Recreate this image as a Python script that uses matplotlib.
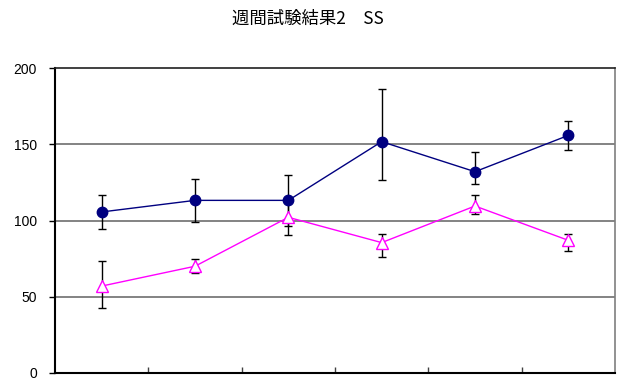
import matplotlib
matplotlib.use("Agg")
import matplotlib.pyplot as plt
import numpy as np

# Weekly test results (series means with lower/upper error extents)
weeks = ["1", "2", "3", "4", "5", "6"]
blue_vals = [105.6, 113.2, 113.2, 151.7, 132.0, 155.8]
blue_err_low = [11.0, 14.2, 16.6, 25.4, 8.3, 9.6]
blue_err_high = [11.3, 14.0, 16.6, 34.3, 13.1, 9.6]
pink_vals = [57.0, 70.0, 102.1, 85.5, 109.5, 87.0]
pink_err_low = [14.4, 4.5, 11.4, 9.4, 5.0, 7.0]
pink_err_high = [16.6, 4.5, 11.4, 5.9, 7.5, 4.4]
y_ticks = [0, 50, 100, 150, 200]
title_text = "週間試験結果2\u3000SS"

plt.rcParams["font.family"] = ["Liberation Sans", "DejaVu Sans"]

fig = plt.figure(figsize=(6.2, 3.9), dpi=100)
ax = fig.add_axes([55 / 620, 1 - 373 / 390, 560 / 620, 305 / 390])

x = np.arange(len(weeks))

# error bars sit underneath the lines and markers
ax.errorbar(x, blue_vals, yerr=[blue_err_low, blue_err_high], fmt="none",
            ecolor="black", elinewidth=1.0, capsize=3.2, capthick=1.0, zorder=3)
ax.errorbar(x, pink_vals, yerr=[pink_err_low, pink_err_high], fmt="none",
            ecolor="black", elinewidth=1.0, capsize=3.2, capthick=1.0, zorder=3)

ax.plot(x, pink_vals, color="#FF00FF", lw=1.0, marker="^", markersize=8.5,
        markerfacecolor="white", markeredgecolor="#FF00FF", markeredgewidth=1.0,
        zorder=4)
ax.plot(x, blue_vals, color="#000080", lw=1.0, marker="o", markersize=7.5,
        markerfacecolor="#000080", markeredgecolor="#000080", zorder=5)

ax.set_xlim(-0.5, len(weeks) - 0.5)
ax.set_ylim(0, 200)

# horizontal gridlines
for v in y_ticks[1:-1]:
    ax.axhline(v, color="#7a7a7a", lw=1.3, zorder=1)

ax.set_yticks(y_ticks)
ax.set_yticklabels([str(v) for v in y_ticks], fontsize=10)
ax.tick_params(axis="y", direction="out", length=4, width=1.0, pad=9,
               colors="black")
ax.set_xticks(np.arange(0.5, len(weeks) - 0.5, 1.0))
ax.set_xticklabels([])
ax.tick_params(axis="x", direction="in", length=4, width=1.0, colors="#404040")

for side in ("left", "bottom"):
    ax.spines[side].set_color("black")
    ax.spines[side].set_linewidth(1.5)
ax.spines["top"].set_color("#202020")
ax.spines["top"].set_linewidth(1.2)
ax.spines["right"].set_color("#7f7f7f")
ax.spines["right"].set_linewidth(1.2)

fig.text(308 / 620, 1 - 19 / 390, title_text, ha="center", va="center",
         fontsize=12.5, family=["Noto Sans CJK JP", "DejaVu Sans"])

fig.savefig("out.png", dpi=100, facecolor="white")
